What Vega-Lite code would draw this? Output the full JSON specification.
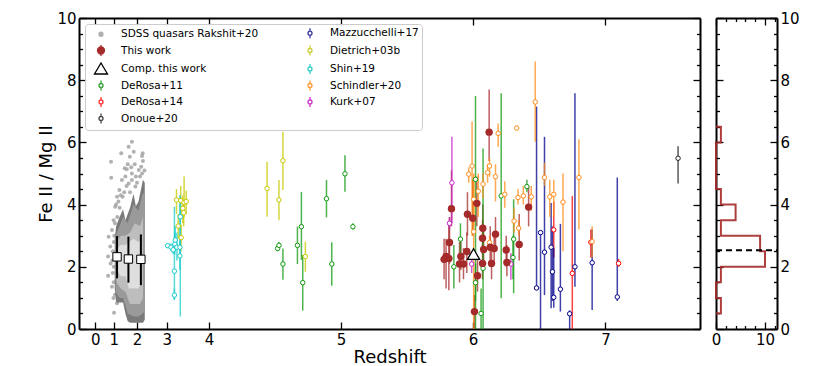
{
"$schema":"https://vega.github.io/schema/vega-lite/v6.json",
"padding":{"left":37,"top":11,"right":5,"bottom":5},
"background":"white",
"bounds":"flush",
"spacing":16,
"config":{"view":{"stroke":null},"axis":{"domainColor":"black","domainWidth":2,"tickColor":"black","tickWidth":1.3,"labelFont":"DejaVu Sans","labelFontSize":15,"labelColor":"black","titleFont":"DejaVu Sans","titleFontSize":18,"titleFontWeight":"normal","titleColor":"black","grid":false,"labelFlush":false,"labelOverlap":false}},
"datasets":{
"pts":[
{"s":"This work","z":6.122,"r":6.33,"lo":5.4,"hi":7.7},
{"s":"This work","z":5.837,"r":3.87,"lo":3.3,"hi":5.1},
{"s":"This work","z":5.822,"r":2.78,"lo":2.1,"hi":3.6},
{"s":"This work","z":5.796,"r":2.33,"lo":1.3,"hi":2.9},
{"s":"This work","z":5.781,"r":2.24,"lo":1.6,"hi":2.9},
{"s":"This work","z":5.817,"r":2.27,"lo":1.25,"hi":3.4},
{"s":"This work","z":5.908,"r":2.33,"lo":1.9,"hi":2.8},
{"s":"This work","z":5.898,"r":2.09,"lo":1.5,"hi":2.8},
{"s":"This work","z":5.928,"r":2.09,"lo":1.6,"hi":2.6},
{"s":"This work","z":5.953,"r":2.49,"lo":1.8,"hi":3.1},
{"s":"This work","z":5.958,"r":3.69,"lo":3.0,"hi":4.4},
{"s":"This work","z":5.998,"r":3.56,"lo":3.0,"hi":4.8},
{"s":"This work","z":6.029,"r":4.04,"lo":3.3,"hi":4.9},
{"s":"This work","z":6.074,"r":3.24,"lo":2.6,"hi":4.0},
{"s":"This work","z":6.072,"r":2.92,"lo":2.4,"hi":3.5},
{"s":"This work","z":6.080,"r":2.56,"lo":2.0,"hi":3.2},
{"s":"This work","z":6.072,"r":2.11,"lo":1.6,"hi":2.7},
{"s":"This work","z":6.034,"r":1.71,"lo":1.2,"hi":2.3},
{"s":"This work","z":6.011,"r":0.56,"lo":0.0,"hi":1.1},
{"s":"This work","z":6.140,"r":2.11,"lo":1.6,"hi":2.7},
{"s":"This work","z":6.170,"r":3.05,"lo":2.5,"hi":3.6},
{"s":"This work","z":6.160,"r":2.59,"lo":2.1,"hi":3.1},
{"s":"This work","z":6.130,"r":2.63,"lo":2.0,"hi":3.3},
{"s":"This work","z":6.251,"r":2.54,"lo":2.0,"hi":3.0},
{"s":"This work","z":6.256,"r":2.14,"lo":1.7,"hi":2.7},
{"s":"This work","z":6.349,"r":2.72,"lo":2.2,"hi":3.7},
{"s":"This work","z":6.420,"r":3.92,"lo":3.3,"hi":4.6},
{"s":"Comp. this work","z":6.004,"r":2.41,"lo":2.41,"hi":2.41},
{"s":"DeRosa+11","z":4.52,"r":2.59,"lo":2.5,"hi":2.7},
{"s":"DeRosa+11","z":4.53,"r":2.69,"lo":2.6,"hi":2.8},
{"s":"DeRosa+11","z":4.56,"r":2.09,"lo":1.58,"hi":2.59},
{"s":"DeRosa+11","z":4.67,"r":2.69,"lo":2.09,"hi":3.29},
{"s":"DeRosa+11","z":4.70,"r":3.29,"lo":2.22,"hi":4.41},
{"s":"DeRosa+11","z":4.71,"r":1.49,"lo":0.59,"hi":2.38},
{"s":"DeRosa+11","z":4.89,"r":4.19,"lo":3.59,"hi":4.79},
{"s":"DeRosa+11","z":5.03,"r":4.99,"lo":4.41,"hi":5.59},
{"s":"DeRosa+11","z":5.09,"r":3.29,"lo":3.2,"hi":3.4},
{"s":"DeRosa+11","z":4.93,"r":2.09,"lo":1.39,"hi":2.79},
{"s":"DeRosa+11","z":5.855,"r":2.0,"lo":1.3,"hi":2.7},
{"s":"DeRosa+11","z":5.905,"r":2.89,"lo":2.4,"hi":3.4},
{"s":"DeRosa+11","z":6.019,"r":4.81,"lo":0,"hi":7.49},
{"s":"DeRosa+11","z":6.019,"r":1.49,"lo":0.9,"hi":2.1},
{"s":"DeRosa+11","z":6.061,"r":0.5,"lo":0,"hi":1.3},
{"s":"DeRosa+11","z":6.076,"r":1.95,"lo":0,"hi":5.8},
{"s":"DeRosa+11","z":6.213,"r":4.28,"lo":0.99,"hi":7.58},
{"s":"DeRosa+11","z":6.307,"r":2.89,"lo":1.15,"hi":4.17},
{"s":"DeRosa+11","z":6.302,"r":2.3,"lo":1.6,"hi":3.0},
{"s":"DeRosa+11","z":6.407,"r":4.58,"lo":4.4,"hi":4.8},
{"s":"DeRosa+14","z":6.61,"r":3.19,"lo":2.3,"hi":4.1},
{"s":"DeRosa+14","z":6.75,"r":1.79,"lo":0,"hi":4.28},
{"s":"DeRosa+14","z":6.89,"r":2.79,"lo":2.3,"hi":3.2},
{"s":"DeRosa+14","z":7.10,"r":2.11,"lo":2.0,"hi":2.25},
{"s":"Onoue+20","z":7.55,"r":5.49,"lo":4.68,"hi":5.88},
{"s":"Mazzucchelli+17","z":6.48,"r":1.32,"lo":1.25,"hi":7.15},
{"s":"Mazzucchelli+17","z":6.51,"r":3.10,"lo":0,"hi":3.15},
{"s":"Mazzucchelli+17","z":6.54,"r":2.47,"lo":1.09,"hi":6.18},
{"s":"Mazzucchelli+17","z":6.59,"r":2.63,"lo":0.67,"hi":4.05},
{"s":"Mazzucchelli+17","z":6.60,"r":1.84,"lo":0.9,"hi":3.3},
{"s":"Mazzucchelli+17","z":6.61,"r":1.02,"lo":0.68,"hi":2.6},
{"s":"Mazzucchelli+17","z":6.66,"r":1.28,"lo":0.56,"hi":3.38},
{"s":"Mazzucchelli+17","z":6.73,"r":0.49,"lo":0,"hi":0.6},
{"s":"Mazzucchelli+17","z":6.77,"r":2.0,"lo":1.36,"hi":7.58},
{"s":"Mazzucchelli+17","z":6.90,"r":2.13,"lo":0.61,"hi":3.2},
{"s":"Mazzucchelli+17","z":7.09,"r":1.03,"lo":0.9,"hi":4.87},
{"s":"Dietrich+03b","z":4.44,"r":4.52,"lo":3.61,"hi":5.38},
{"s":"Dietrich+03b","z":4.56,"r":5.41,"lo":4.47,"hi":6.34},
{"s":"Dietrich+03b","z":4.53,"r":4.15,"lo":3.5,"hi":4.79},
{"s":"Dietrich+03b","z":4.73,"r":2.33,"lo":1.84,"hi":2.81},
{"s":"Dietrich+03b","z":3.23,"r":4.15,"lo":3.7,"hi":4.5},
{"s":"Dietrich+03b","z":3.33,"r":4.13,"lo":3.6,"hi":4.6},
{"s":"Dietrich+03b","z":3.41,"r":4.07,"lo":3.6,"hi":4.9},
{"s":"Dietrich+03b","z":3.46,"r":4.10,"lo":3.7,"hi":4.45},
{"s":"Dietrich+03b","z":3.38,"r":3.88,"lo":3.4,"hi":4.3},
{"s":"Dietrich+03b","z":3.40,"r":3.74,"lo":3.3,"hi":4.1},
{"s":"Dietrich+03b","z":3.27,"r":3.31,"lo":2.9,"hi":3.7},
{"s":"Dietrich+03b","z":3.34,"r":2.94,"lo":2.5,"hi":3.35},
{"s":"Shin+19","z":3.02,"r":2.68,"lo":2.6,"hi":2.76},
{"s":"Shin+19","z":3.10,"r":2.63,"lo":2.5,"hi":2.76},
{"s":"Shin+19","z":3.15,"r":2.55,"lo":2.4,"hi":2.7},
{"s":"Shin+19","z":3.18,"r":1.86,"lo":0.93,"hi":3.93},
{"s":"Shin+19","z":3.18,"r":1.09,"lo":0.95,"hi":1.3},
{"s":"Shin+19","z":3.19,"r":2.73,"lo":2.4,"hi":3.1},
{"s":"Shin+19","z":3.20,"r":2.86,"lo":2.5,"hi":3.3},
{"s":"Shin+19","z":3.24,"r":2.63,"lo":2.2,"hi":3.1},
{"s":"Shin+19","z":3.31,"r":2.63,"lo":2.3,"hi":4.3},
{"s":"Shin+19","z":3.31,"r":2.35,"lo":1.9,"hi":2.8},
{"s":"Shin+19","z":3.32,"r":3.61,"lo":0.4,"hi":4.25},
{"s":"Schindler+20","z":6.47,"r":7.30,"lo":6.02,"hi":8.6},
{"s":"Schindler+20","z":6.33,"r":6.46,"lo":6.4,"hi":6.55},
{"s":"Schindler+20","z":6.19,"r":6.29,"lo":5.86,"hi":6.61},
{"s":"Schindler+20","z":5.993,"r":5.24,"lo":3.0,"hi":6.67},
{"s":"Schindler+20","z":5.968,"r":4.98,"lo":4.7,"hi":5.2},
{"s":"Schindler+20","z":6.125,"r":5.24,"lo":4.9,"hi":5.5},
{"s":"Schindler+20","z":6.11,"r":5.03,"lo":4.7,"hi":5.3},
{"s":"Schindler+20","z":6.17,"r":4.90,"lo":4.1,"hi":5.3},
{"s":"Schindler+20","z":6.04,"r":4.43,"lo":3.6,"hi":5.0},
{"s":"Schindler+20","z":6.076,"r":4.66,"lo":4.2,"hi":5.0},
{"s":"Schindler+20","z":6.24,"r":4.33,"lo":3.9,"hi":4.75},
{"s":"Schindler+20","z":6.34,"r":4.23,"lo":4.0,"hi":4.5},
{"s":"Schindler+20","z":6.38,"r":4.28,"lo":4.0,"hi":4.6},
{"s":"Schindler+20","z":6.44,"r":4.25,"lo":3.8,"hi":4.6},
{"s":"Schindler+20","z":6.54,"r":4.87,"lo":4.6,"hi":5.35},
{"s":"Schindler+20","z":6.58,"r":4.25,"lo":3.6,"hi":4.8},
{"s":"Schindler+20","z":6.61,"r":4.33,"lo":3.6,"hi":4.8},
{"s":"Schindler+20","z":6.68,"r":4.08,"lo":2.5,"hi":5.0},
{"s":"Schindler+20","z":6.80,"r":4.87,"lo":3.2,"hi":6.1},
{"s":"Schindler+20","z":6.31,"r":3.47,"lo":3.1,"hi":3.9},
{"s":"Schindler+20","z":6.345,"r":3.24,"lo":3.0,"hi":3.5},
{"s":"Schindler+20","z":6.125,"r":2.78,"lo":2.5,"hi":3.0},
{"s":"Schindler+20","z":6.005,"r":4.17,"lo":3.3,"hi":5.0},
{"s":"Schindler+20","z":6.005,"r":3.13,"lo":0,"hi":4.9},
{"s":"Schindler+20","z":6.90,"r":2.81,"lo":2.3,"hi":3.3},
{"s":"Kurk+07","z":5.84,"r":4.70,"lo":3.40,"hi":6.18},
{"s":"Kurk+07","z":5.822,"r":3.40,"lo":3.2,"hi":3.6},
{"s":"Kurk+07","z":5.99,"r":2.09,"lo":1.8,"hi":2.4},
{"s":"Kurk+07","z":6.286,"r":2.09,"lo":1.58,"hi":2.44}
],
"sdss":[
{"z":1.78,"r":6.02},{"z":1.64,"r":5.86},{"z":1.32,"r":5.65},{"z":1.86,"r":5.70},{"z":2.19,"r":5.65},{"z":1.69,"r":5.54},{"z":0.85,"r":5.38},{"z":2.17,"r":5.56},{"z":1.47,"r":5.17},{"z":1.56,"r":5.14},{"z":2.14,"r":5.22},{"z":0.86,"r":4.86},{"z":1.78,"r":5.0},{"z":2.17,"r":5.0},{"z":1.35,"r":4.79},{"z":1.24,"r":4.47},{"z":1.64,"r":4.68},{"z":1.93,"r":4.58},{"z":1.14,"r":4.25},{"z":1.06,"r":3.93},{"z":0.99,"r":3.5},{"z":0.90,"r":3.18},{"z":0.72,"r":2.97},{"z":0.81,"r":2.65},{"z":0.69,"r":2.33},{"z":0.83,"r":2.11},{"z":0.69,"r":1.71},{"z":0.90,"r":1.36},{"z":1.01,"r":0.52},{"z":1.14,"r":0.83},{"z":2.06,"r":5.11},{"z":1.50,"r":4.9},{"z":1.38,"r":4.25},{"z":1.78,"r":4.79},{"z":1.02,"r":3.0},{"z":1.0,"r":2.8},{"z":0.95,"r":2.5},{"z":1.0,"r":2.0},{"z":0.95,"r":1.8},{"z":1.0,"r":1.5},{"z":1.05,"r":1.1},{"z":0.98,"r":1.0},{"z":1.1,"r":4.0},{"z":1.2,"r":4.1},{"z":1.45,"r":4.4},{"z":1.7,"r":4.4},{"z":2.0,"r":4.7},{"z":2.1,"r":4.9},{"z":1.9,"r":5.3},{"z":1.6,"r":5.3},{"z":2.2,"r":5.4},{"z":1.25,"r":3.9},{"z":1.15,"r":3.6},{"z":2.25,"r":5.1},{"z":1.75,"r":5.2},{"z":1.05,"r":3.4},{"z":0.92,"r":2.2},{"z":1.3,"r":4.3},{"z":1.55,"r":4.6},{"z":1.95,"r":4.9}
],
"dens":[
{"l":1,"z":1.04,"lo":1.3,"hi":2.9},{"l":1,"z":1.10,"lo":0.85,"hi":3.3},{"l":1,"z":1.25,"lo":0.85,"hi":3.6},{"l":1,"z":1.40,"lo":0.85,"hi":3.85},{"l":1,"z":1.50,"lo":0.5,"hi":3.5},{"l":1,"z":1.60,"lo":0.25,"hi":3.7},{"l":1,"z":1.70,"lo":0.2,"hi":3.9},{"l":1,"z":1.85,"lo":0.2,"hi":4.35},{"l":1,"z":1.95,"lo":0.2,"hi":3.95},{"l":1,"z":2.05,"lo":0.2,"hi":4.1},{"l":1,"z":2.20,"lo":0.2,"hi":4.8},{"l":1,"z":2.26,"lo":0.3,"hi":4.7},
{"l":2,"z":1.08,"lo":1.2,"hi":3.0},{"l":2,"z":1.25,"lo":1.0,"hi":3.3},{"l":2,"z":1.40,"lo":1.0,"hi":3.6},{"l":2,"z":1.60,"lo":0.5,"hi":3.4},{"l":2,"z":1.85,"lo":0.4,"hi":4.0},{"l":2,"z":2.05,"lo":0.4,"hi":3.8},{"l":2,"z":2.20,"lo":0.5,"hi":4.4},{"l":2,"z":2.24,"lo":0.6,"hi":4.3},
{"l":3,"z":1.12,"lo":1.5,"hi":2.8},{"l":3,"z":1.30,"lo":1.3,"hi":3.0},{"l":3,"z":1.50,"lo":1.2,"hi":3.0},{"l":3,"z":1.70,"lo":0.8,"hi":3.1},{"l":3,"z":1.90,"lo":0.8,"hi":3.4},{"l":3,"z":2.10,"lo":0.8,"hi":3.3},{"l":3,"z":2.20,"lo":1.0,"hi":3.6},
{"l":4,"z":1.15,"lo":1.9,"hi":2.6},{"l":4,"z":1.30,"lo":1.7,"hi":2.7},{"l":4,"z":1.50,"lo":1.7,"hi":2.7},{"l":4,"z":1.65,"lo":1.3,"hi":2.8},{"l":4,"z":1.85,"lo":1.3,"hi":2.9},{"l":4,"z":2.05,"lo":1.3,"hi":2.8},{"l":4,"z":2.15,"lo":1.5,"hi":2.9}
],
"med":[{"z":1.14,"r":2.32,"lo":1.63,"hi":2.99},{"z":1.63,"r":2.25,"lo":1.49,"hi":2.97},{"z":2.13,"r":2.24,"lo":1.41,"hi":3.04}],
"leg":[{"name":"SDSS quasars Rakshit+20"},{"name":"This work"},{"name":"Comp. this work"},{"name":"DeRosa+11"},{"name":"DeRosa+14"},{"name":"Onoue+20"},{"name":"Mazzucchelli+17"},{"name":"Dietrich+03b"},{"name":"Shin+19"},{"name":"Schindler+20"},{"name":"Kurk+07"}],
"hist":[
{"o":1,"c":0,"v":0.5},{"o":2,"c":1,"v":0.5},{"o":3,"c":1,"v":1.0},{"o":4,"c":0,"v":1.0},{"o":5,"c":0,"v":1.5},{"o":6,"c":1,"v":1.5},{"o":7,"c":1,"v":2.0},{"o":8,"c":10,"v":2.0},{"o":9,"c":10,"v":2.5},{"o":10,"c":9,"v":2.5},{"o":11,"c":9,"v":3.0},{"o":12,"c":1,"v":3.0},{"o":13,"c":1,"v":3.5},{"o":14,"c":4,"v":3.5},{"o":15,"c":4,"v":4.0},{"o":16,"c":1,"v":4.0},{"o":17,"c":1,"v":4.5},{"o":18,"c":0,"v":4.5},{"o":19,"c":0,"v":6.0},{"o":20,"c":1,"v":6.0},{"o":21,"c":1,"v":6.5},{"o":22,"c":0,"v":6.5}
],
"hmed":[{"m":2.53}]
},
"hconcat":[
{
"width":621,"height":311,
"resolve":{"axis":{"x":"independent","y":"independent"}},
"layer":[
{"data":{"name":"sdss"},"mark":{"type":"point","filled":true,"color":"#a3a3a3","size":16,"opacity":0.85},
 "encoding":{
  "x":{"field":"z","type":"quantitative","scale":{"domain":[-0.88,0,1,2,3,4,5,6,7,7.716],"range":[0,16.3,34.8,58,87.8,130,262,394,526.4,621],"nice":false,"zero":false},
   "axis":{"orient":"top","values":[0,1,2,3,4,5,6,7],"labels":false,"tickSize":-7,"title":null}},
  "y":{"field":"r","type":"quantitative","scale":{"domain":[0,10],"nice":false,"zero":false},
   "axis":{"orient":"right","values":[0,0.5,1,1.5,2,2.5,3,3.5,4,4.5,5,5.5,6,6.5,7,7.5,8,8.5,9,9.5,10],"labels":false,"tickSize":{"condition":{"test":"datum.value % 2 == 0","value":-7},"value":-3.5},"title":null}}}},
{"data":{"name":"dens"},"transform":[{"filter":"datum.l == 1"}],"mark":{"type":"area","color":"#7a7a7a"},
 "encoding":{
  "x":{"field":"z","type":"quantitative","scale":{"domain":[-0.88,0,1,2,3,4,5,6,7,7.716],"range":[0,16.3,34.8,58,87.8,130,262,394,526.4,621],"nice":false,"zero":false},
   "axis":{"orient":"bottom","values":[0,1,2,3,4,5,6,7],"tickSize":-7,"labelPadding":10,"title":"Redshift","titlePadding":1}},
  "y":{"field":"lo","type":"quantitative","scale":{"domain":[0,10],"nice":false,"zero":false},
   "axis":{"orient":"left","values":[0,0.5,1,1.5,2,2.5,3,3.5,4,4.5,5,5.5,6,6.5,7,7.5,8,8.5,9,9.5,10],"labelExpr":"datum.value % 2 == 0 ? format(datum.value, 'd') : ''","tickSize":{"condition":{"test":"datum.value % 2 == 0","value":-7},"value":-3.5},"labelPadding":10,"title":"Fe II / Mg II","titlePadding":1}},
  "y2":{"field":"hi"}}},
{"data":{"name":"dens"},"transform":[{"filter":"datum.l == 2"}],"mark":{"type":"area","color":"#9a9a9a"},
 "encoding":{"x":{"field":"z","type":"quantitative","axis":null},"y":{"field":"lo","type":"quantitative","axis":null},"y2":{"field":"hi"}}},
{"data":{"name":"dens"},"transform":[{"filter":"datum.l == 3"}],"mark":{"type":"area","color":"#bdbdbd"},
 "encoding":{"x":{"field":"z","type":"quantitative","axis":null},"y":{"field":"lo","type":"quantitative","axis":null},"y2":{"field":"hi"}}},
{"data":{"name":"dens"},"transform":[{"filter":"datum.l == 4"}],"mark":{"type":"area","color":"#dedede"},
 "encoding":{"x":{"field":"z","type":"quantitative","axis":null},"y":{"field":"lo","type":"quantitative","axis":null},"y2":{"field":"hi"}}},
{"data":{"name":"med"},"mark":{"type":"rule","color":"black","strokeWidth":2},
 "encoding":{"x":{"field":"z","type":"quantitative","axis":null},"y":{"field":"lo","type":"quantitative","axis":null},"y2":{"field":"hi"}}},
{"data":{"name":"med"},"mark":{"type":"point","shape":"square","filled":true,"fill":"white","stroke":"black","strokeWidth":1,"size":70,"opacity":1},
 "encoding":{"x":{"field":"z","type":"quantitative","axis":null},"y":{"field":"r","type":"quantitative","axis":null}}},
{"data":{"name":"pts"},"transform":[{"filter":"datum.s != 'Comp. this work'"}],"mark":{"type":"rule","strokeWidth":1.5,"opacity":0.75},
 "encoding":{"x":{"field":"z","type":"quantitative","axis":null},"y":{"field":"lo","type":"quantitative","axis":null},"y2":{"field":"hi"},
  "color":{"field":"s","type":"nominal","legend":null,"scale":{"domain":["This work","DeRosa+11","DeRosa+14","Onoue+20","Mazzucchelli+17","Dietrich+03b","Shin+19","Schindler+20","Kurk+07"],"range":["#a52a2a","#119911","#ff0000","#222222","#00008b","#c8c800","#1ccccc","#ff8c1a","#cc22cc"]}}}},
{"data":{"name":"pts"},"transform":[{"filter":"datum.s != 'Comp. this work' && datum.s != 'This work'"}],"mark":{"type":"point","filled":false,"fill":"white","size":20,"strokeWidth":1,"opacity":1},
 "encoding":{"x":{"field":"z","type":"quantitative","axis":null},"y":{"field":"r","type":"quantitative","axis":null},
  "color":{"field":"s","type":"nominal","legend":null}}},
{"data":{"name":"pts"},"transform":[{"filter":"datum.s == 'This work'"}],"mark":{"type":"point","shape":"circle","filled":true,"color":"#a52a2a","size":55,"opacity":1},
 "encoding":{"x":{"field":"z","type":"quantitative","axis":null},"y":{"field":"r","type":"quantitative","axis":null}}},
{"data":{"name":"pts"},"transform":[{"filter":"datum.s == 'Comp. this work'"}],"mark":{"type":"point","shape":"triangle-up","filled":true,"fill":"white","stroke":"black","strokeWidth":1.3,"size":150,"opacity":1},
 "encoding":{"x":{"field":"z","type":"quantitative","axis":null},"y":{"field":"r","type":"quantitative","axis":null}}},
{"data":{"name":"leg"},"mark":{"type":"point","opacity":0},
 "encoding":{
  "shape":{"field":"name","type":"nominal","scale":{"domain":["SDSS quasars Rakshit+20","This work","Comp. this work","DeRosa+11","DeRosa+14","Onoue+20","Mazzucchelli+17","Dietrich+03b","Shin+19","Schindler+20","Kurk+07"],
   "range":["M-0.4,0A0.4,0.4,0,1,1,0.4,0A0.4,0.4,0,1,1,-0.4,0Z","M0,-1.1L0,1.1M-0.7,0A0.7,0.7,0,1,1,0.7,0A0.7,0.7,0,1,1,-0.7,0Z","M-1.3,1L0,-1.2L1.3,1Z","M0,-1L0,-0.4M0,0.4L0,1M-0.4,0A0.4,0.4,0,1,1,0.4,0A0.4,0.4,0,1,1,-0.4,0Z","M0,-1L0,-0.4M0,0.4L0,1M-0.4,0A0.4,0.4,0,1,1,0.4,0A0.4,0.4,0,1,1,-0.4,0Z","M0,-1L0,-0.4M0,0.4L0,1M-0.4,0A0.4,0.4,0,1,1,0.4,0A0.4,0.4,0,1,1,-0.4,0Z","M0,-1L0,-0.4M0,0.4L0,1M-0.4,0A0.4,0.4,0,1,1,0.4,0A0.4,0.4,0,1,1,-0.4,0Z","M0,-1L0,-0.4M0,0.4L0,1M-0.4,0A0.4,0.4,0,1,1,0.4,0A0.4,0.4,0,1,1,-0.4,0Z","M0,-1L0,-0.4M0,0.4L0,1M-0.4,0A0.4,0.4,0,1,1,0.4,0A0.4,0.4,0,1,1,-0.4,0Z","M0,-1L0,-0.4M0,0.4L0,1M-0.4,0A0.4,0.4,0,1,1,0.4,0A0.4,0.4,0,1,1,-0.4,0Z","M0,-1L0,-0.4M0,0.4L0,1M-0.4,0A0.4,0.4,0,1,1,0.4,0A0.4,0.4,0,1,1,-0.4,0Z"]},
   "legend":{"title":null,"orient":"top-left","offset":6,"columns":2,"columnPadding":38,"rowPadding":0.5,"padding":3,"symbolOffset":7,"fillColor":"rgba(255,255,255,0.8)","strokeColor":"#cccccc","cornerRadius":3,"symbolSize":100,"symbolStrokeWidth":1.3,"symbolOpacity":1,"labelFont":"DejaVu Sans","labelFontSize":10.5,"labelColor":"black","labelLimit":300,"labelOffset":14}},
  "stroke":{"field":"name","type":"nominal","scale":{"domain":["SDSS quasars Rakshit+20","This work","Comp. this work","DeRosa+11","DeRosa+14","Onoue+20","Mazzucchelli+17","Dietrich+03b","Shin+19","Schindler+20","Kurk+07"],"range":["#b0b0b0","#a52a2a","#000000","#33a033","#ff3333","#444444","#3a3aa0","#cccc33","#33cccc","#ff9933","#cc33cc"]},
   "legend":{"title":null,"orient":"top-left","offset":6,"columns":2,"columnPadding":38,"rowPadding":0.5,"padding":3,"symbolOffset":7,"fillColor":"rgba(255,255,255,0.8)","strokeColor":"#cccccc","cornerRadius":3,"symbolSize":100,"symbolStrokeWidth":1.3,"symbolOpacity":1,"labelFont":"DejaVu Sans","labelFontSize":10.5,"labelColor":"black","labelLimit":300,"labelOffset":14}},
  "fill":{"field":"name","type":"nominal","scale":{"domain":["SDSS quasars Rakshit+20","This work","Comp. this work","DeRosa+11","DeRosa+14","Onoue+20","Mazzucchelli+17","Dietrich+03b","Shin+19","Schindler+20","Kurk+07"],"range":["#b0b0b0","#a52a2a","white","white","white","white","white","white","white","white","white"]},
   "legend":{"title":null,"orient":"top-left","offset":6,"columns":2,"columnPadding":38,"rowPadding":0.5,"padding":3,"symbolOffset":7,"fillColor":"rgba(255,255,255,0.8)","strokeColor":"#cccccc","cornerRadius":3,"symbolSize":100,"symbolStrokeWidth":1.3,"symbolOpacity":1,"labelFont":"DejaVu Sans","labelFontSize":10.5,"labelColor":"black","labelLimit":300,"labelOffset":14}}
 }}
]
},
{
"width":61,"height":311,
"resolve":{"axis":{"x":"independent","y":"independent"}},
"layer":[
{"data":{"name":"hist"},"mark":{"type":"line","color":"#a52a2a","strokeWidth":2,"opacity":0.9,"interpolate":"linear"},
 "encoding":{
  "x":{"field":"c","type":"quantitative","scale":{"domain":[0,12.45],"nice":false,"zero":false},
   "axis":{"orient":"bottom","values":[0,2,4,6,8,10,12],"labelExpr":"datum.value == 0 || datum.value == 10 ? datum.label : ''","tickSize":{"condition":{"test":"datum.value == 0 || datum.value == 10","value":-7},"value":-3.5},"labelPadding":10,"title":null}},
  "y":{"field":"v","type":"quantitative","scale":{"domain":[0,10],"nice":false,"zero":false},
   "axis":{"orient":"right","values":[0,0.5,1,1.5,2,2.5,3,3.5,4,4.5,5,5.5,6,6.5,7,7.5,8,8.5,9,9.5,10],"labelExpr":"datum.value % 2 == 0 ? format(datum.value, 'd') : ''","tickSize":{"condition":{"test":"datum.value % 2 == 0","value":-7},"value":-3.5},"labelPadding":10,"title":null}},
  "order":{"field":"o"}}},
{"data":{"name":"hmed"},"mark":{"type":"rule","color":"black","strokeWidth":2,"strokeDash":[6,4]},
 "encoding":{
  "x":{"datum":0,"type":"quantitative","scale":{"domain":[0,12.45],"nice":false,"zero":false},
   "axis":{"orient":"top","values":[0,2,4,6,8,10,12],"labels":false,"tickSize":{"condition":{"test":"datum.value == 0 || datum.value == 10","value":-7},"value":-3.5},"title":null}},
  "x2":{"datum":12.45},
  "y":{"field":"m","type":"quantitative","scale":{"domain":[0,10],"nice":false,"zero":false},
   "axis":{"orient":"left","values":[0,0.5,1,1.5,2,2.5,3,3.5,4,4.5,5,5.5,6,6.5,7,7.5,8,8.5,9,9.5,10],"labels":false,"tickSize":{"condition":{"test":"datum.value % 2 == 0","value":-7},"value":-3.5},"title":null}}}}
]
}
]
}
